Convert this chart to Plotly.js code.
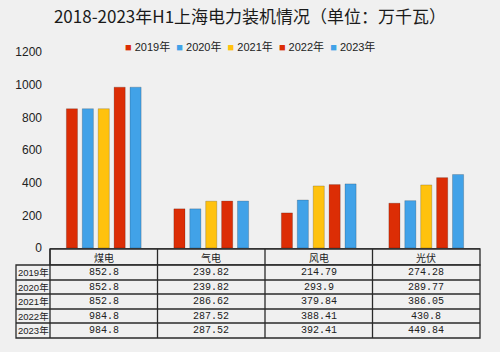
<!DOCTYPE html>
<html>
<head>
<meta charset="utf-8">
<script src="https://cdn.plot.ly/plotly-3.0.1.min.js"></script>
<style>html,body{margin:0;padding:0;background:#f0f0f0;}#chart{width:500px;height:352px;}</style>
</head>
<body>
<div id="chart"></div>
<script>
var categories = ["煤电", "气电", "风电", "光伏"];
var seriesNames = ["2019年", "2020年", "2021年", "2022年", "2023年"];
var v2019 = [852.8, 239.82, 214.79, 274.28];
var v2020 = [852.8, 239.82, 293.9, 289.77];
var v2021 = [852.8, 286.62, 379.84, 386.05];
var v2022 = [984.8, 287.52, 388.41, 430.8];
var v2023 = [984.8, 287.52, 392.41, 449.84];
var yTicks = [0, 200, 400, 600, 800, 1000, 1200];

var allValues = [v2019, v2020, v2021, v2022, v2023];
var colors = ["#dc2d05", "#41a2e8", "#ffc20e", "#dc2d05", "#41a2e8"];
var labelStrings = [
  ["852.8", "239.82", "214.79", "274.28"],
  ["852.8", "239.82", "293.9", "289.77"],
  ["852.8", "286.62", "379.84", "386.05"],
  ["984.8", "287.52", "388.41", "430.8"],
  ["984.8", "287.52", "392.41", "449.84"]
];

var traces = allValues.map(function (vals, i) {
  return {
    type: "bar", name: seriesNames[i], x: categories, y: vals,
    marker: {color: colors[i], line: {color: "rgba(0,0,0,0.18)", width: 1}},
    hoverinfo: "none", showlegend: false
  };
});

// table geometry (pixels)
var H = 352, mT = 52, mB = 104, plotH = H - mT - mB;
function py(p) { return (H - mB - p) / plotH; }
var plotL = 50, plotW = 430;
function px(p) { return (p - plotL) / plotW; }
var rowLines = [249, 265, 280, 294, 309, 323, 338];
var lineCol = "#2a2a2a";
var shapes = [];
var annotations = [];
shapes.push({type: "rect", xref: "paper", yref: "paper", x0: 0, x1: 1, y0: py(rowLines[1]), y1: py(rowLines[0]),
  line: {color: lineCol, width: 1.3}, fillcolor: "rgba(240,240,240,0.6)", layer: "above"});
shapes.push({type: "rect", xref: "paper", yref: "paper", x0: px(16), x1: 1, y0: py(rowLines[6]), y1: py(rowLines[1]),
  line: {color: lineCol, width: 1.3}, fillcolor: "rgba(240,240,240,0.6)", layer: "above"});
for (var r = 2; r < 6; r++) {
  shapes.push({type: "line", xref: "paper", yref: "paper", x0: px(16), x1: 1, y0: py(rowLines[r]), y1: py(rowLines[r]),
    line: {color: lineCol, width: 1.3}, layer: "above"});
}
shapes.push({type: "line", xref: "paper", yref: "paper", x0: 0, x1: 0, y0: py(rowLines[6]), y1: py(rowLines[0]),
  line: {color: lineCol, width: 1.3}, layer: "above"});
for (var c = 0; c < categories.length - 1; c++) {
  shapes.push({type: "line", xref: "x", yref: "paper", x0: c + 0.5, x1: c + 0.5, y0: py(rowLines[6]), y1: py(rowLines[0]),
    line: {color: lineCol, width: 1.3}, layer: "above"});
}
var tFont = {family: "Liberation Mono, Noto Sans CJK SC", size: 10, color: "#222"};
var rFont = {family: "Liberation Sans, Noto Sans CJK SC", size: 9.5, color: "#222"};
var hFont = {family: "Noto Sans CJK SC", size: 10, color: "#222"};
categories.forEach(function (cat, ci) {
  annotations.push({xref: "x", yref: "paper", x: ci, y: py((rowLines[0] + rowLines[1]) / 2), text: cat,
    showarrow: false, font: hFont, xanchor: "center", yanchor: "middle", height: 14});
});
seriesNames.forEach(function (nm, ri) {
  var yc = py((rowLines[ri + 1] + rowLines[ri + 2]) / 2);
  annotations.push({xref: "paper", yref: "paper", x: px(33), y: yc, text: nm, showarrow: false,
    font: rFont, xanchor: "center", yanchor: "middle", height: 13});
  categories.forEach(function (cat, ci) {
    annotations.push({xref: "x", yref: "paper", x: ci, y: yc, text: labelStrings[ri][ci], showarrow: false,
      font: tFont, xanchor: "center", yanchor: "middle", height: 13});
  });
});
// legend drawn as text
var legendHtml = seriesNames.map(function (nm, i) {
  return '<span style="color:' + colors[i] + '">■</span>&nbsp;' + nm;
}).join('&nbsp;&nbsp;');
annotations.push({xref: "paper", yref: "paper", x: px(250), y: py(46), text: legendHtml, showarrow: false,
  xanchor: "center", yanchor: "middle", font: {family: "Liberation Sans, Noto Sans CJK SC", size: 11, color: "#222"}});

var layout = {
  width: 500, height: 352,
  margin: {l: 50, r: 20, t: mT, b: mB},
  paper_bgcolor: "#f0f0f0", plot_bgcolor: "rgba(0,0,0,0)",
  title: {text: "2018-2023年H1上海电力装机情况（单位：万千瓦）", x: 0.5, xanchor: "center", y: 0.952, yanchor: "middle",
    font: {family: "Noto Sans CJK SC", size: 17, color: "#1a1a1a"}},
  barmode: "group", bargap: 0.26, bargroupgap: 0.3,
  showlegend: false,
  xaxis: {type: "category", range: [-0.5, 3.5], showticklabels: false, showgrid: false, zeroline: false,
    showline: true, linecolor: "#555", linewidth: 1, fixedrange: true},
  yaxis: {range: [0, 1200], tickvals: yTicks, ticktext: yTicks.map(String), showgrid: false, zeroline: false,
    showline: false, ticks: "", ticklen: 0, ticklabelstandoff: 7,
    tickfont: {family: "Liberation Sans", size: 12, color: "#222"}, fixedrange: true},
  shapes: shapes,
  annotations: annotations
};

Plotly.newPlot("chart", traces, layout, {staticPlot: true, displayModeBar: false});
</script>
</body>
</html>
